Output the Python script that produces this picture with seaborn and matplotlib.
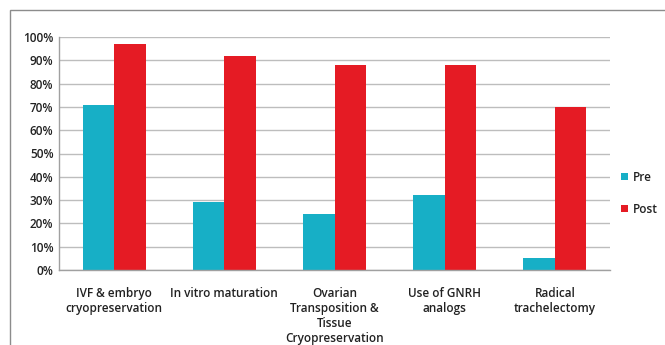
import matplotlib
matplotlib.use("Agg")
import matplotlib.pyplot as plt
import seaborn as sns
import pandas as pd
import numpy as np
from matplotlib.patches import Rectangle
from matplotlib.ticker import PercentFormatter, FixedLocator

categories = ["IVF & embryo\ncryopreservation", "In vitro maturation",
              "Ovarian\nTransposition &\nTissue\nCryopreservation",
              "Use of GNRH\nanalogs", "Radical\ntrachelectomy"]
pre = [71, 29, 24, 32, 5]
post = [97, 92, 88, 88, 70]
series = ["Pre", "Post"]
colors = ["#17AFC6", "#E51B24"]

df = pd.DataFrame({
    "cat": categories * 2,
    "val": [v / 100 for v in pre + post],
    "series": ["Pre"] * len(pre) + ["Post"] * len(post),
})

sns.set_style("white")
plt.rcParams["font.family"] = ["Open Sans", "DejaVu Sans"]

fig = plt.figure(figsize=(6.65, 3.45), dpi=100)
fig.patches.append(Rectangle((10 / 665, -0.1), 1.2, 1 - 10 / 345 + 0.1,
                             transform=fig.transFigure, fill=False,
                             edgecolor="#8c8c8c", lw=1.0))
ax = fig.add_axes([59 / 665, 1 - 270 / 345, (610 - 59) / 665, (270 - 37) / 345])
sns.barplot(data=df, x="cat", y="val", hue="series", hue_order=series,
            palette=colors, width=0.57, gap=0, linewidth=0, ax=ax,
            saturation=1, legend=True)

ax.set_ylim(0, 1)
ax.set_xlim(-0.5, len(categories) - 0.5)
ax.set_yticks(np.arange(0, 1.01, 0.1))
ax.yaxis.set_major_formatter(PercentFormatter(1.0, decimals=0))
ax.grid(axis="y", color="#bdbdbd", lw=1)
ax.set_axisbelow(True)
ax.set_xlabel("")
ax.set_ylabel("")
for s in ["top", "right"]:
    ax.spines[s].set_visible(False)
for s in ["left", "bottom"]:
    ax.spines[s].set_color("#a0a0a0")
    ax.spines[s].set_linewidth(1)
ax.tick_params(axis="y", length=0, labelsize=8.5, pad=4, labelcolor="#222222")
ax.tick_params(axis="x", which="major", length=0, labelsize=8.5, pad=12, labelcolor="#222222")
ax.xaxis.set_minor_locator(FixedLocator(np.arange(-0.5, len(categories), 1.0)))
ax.tick_params(axis="x", which="minor", length=5, color="#a0a0a0", width=1)
for lbl in ax.get_yticklabels() + ax.get_xticklabels():
    lbl.set_fontweight("semibold")
for lbl in ax.get_xticklabels():
    lbl.set_horizontalalignment("center")

leg = ax.legend(loc="center left", bbox_to_anchor=(1.0, 0.33), frameon=False,
                fontsize=8.5, handlelength=0.6, handleheight=0.6,
                handletextpad=0.4, labelspacing=1.6)
for t in leg.get_texts():
    t.set_color("#222222")
    t.set_fontweight("semibold")

fig.savefig("out.png", dpi=100)
